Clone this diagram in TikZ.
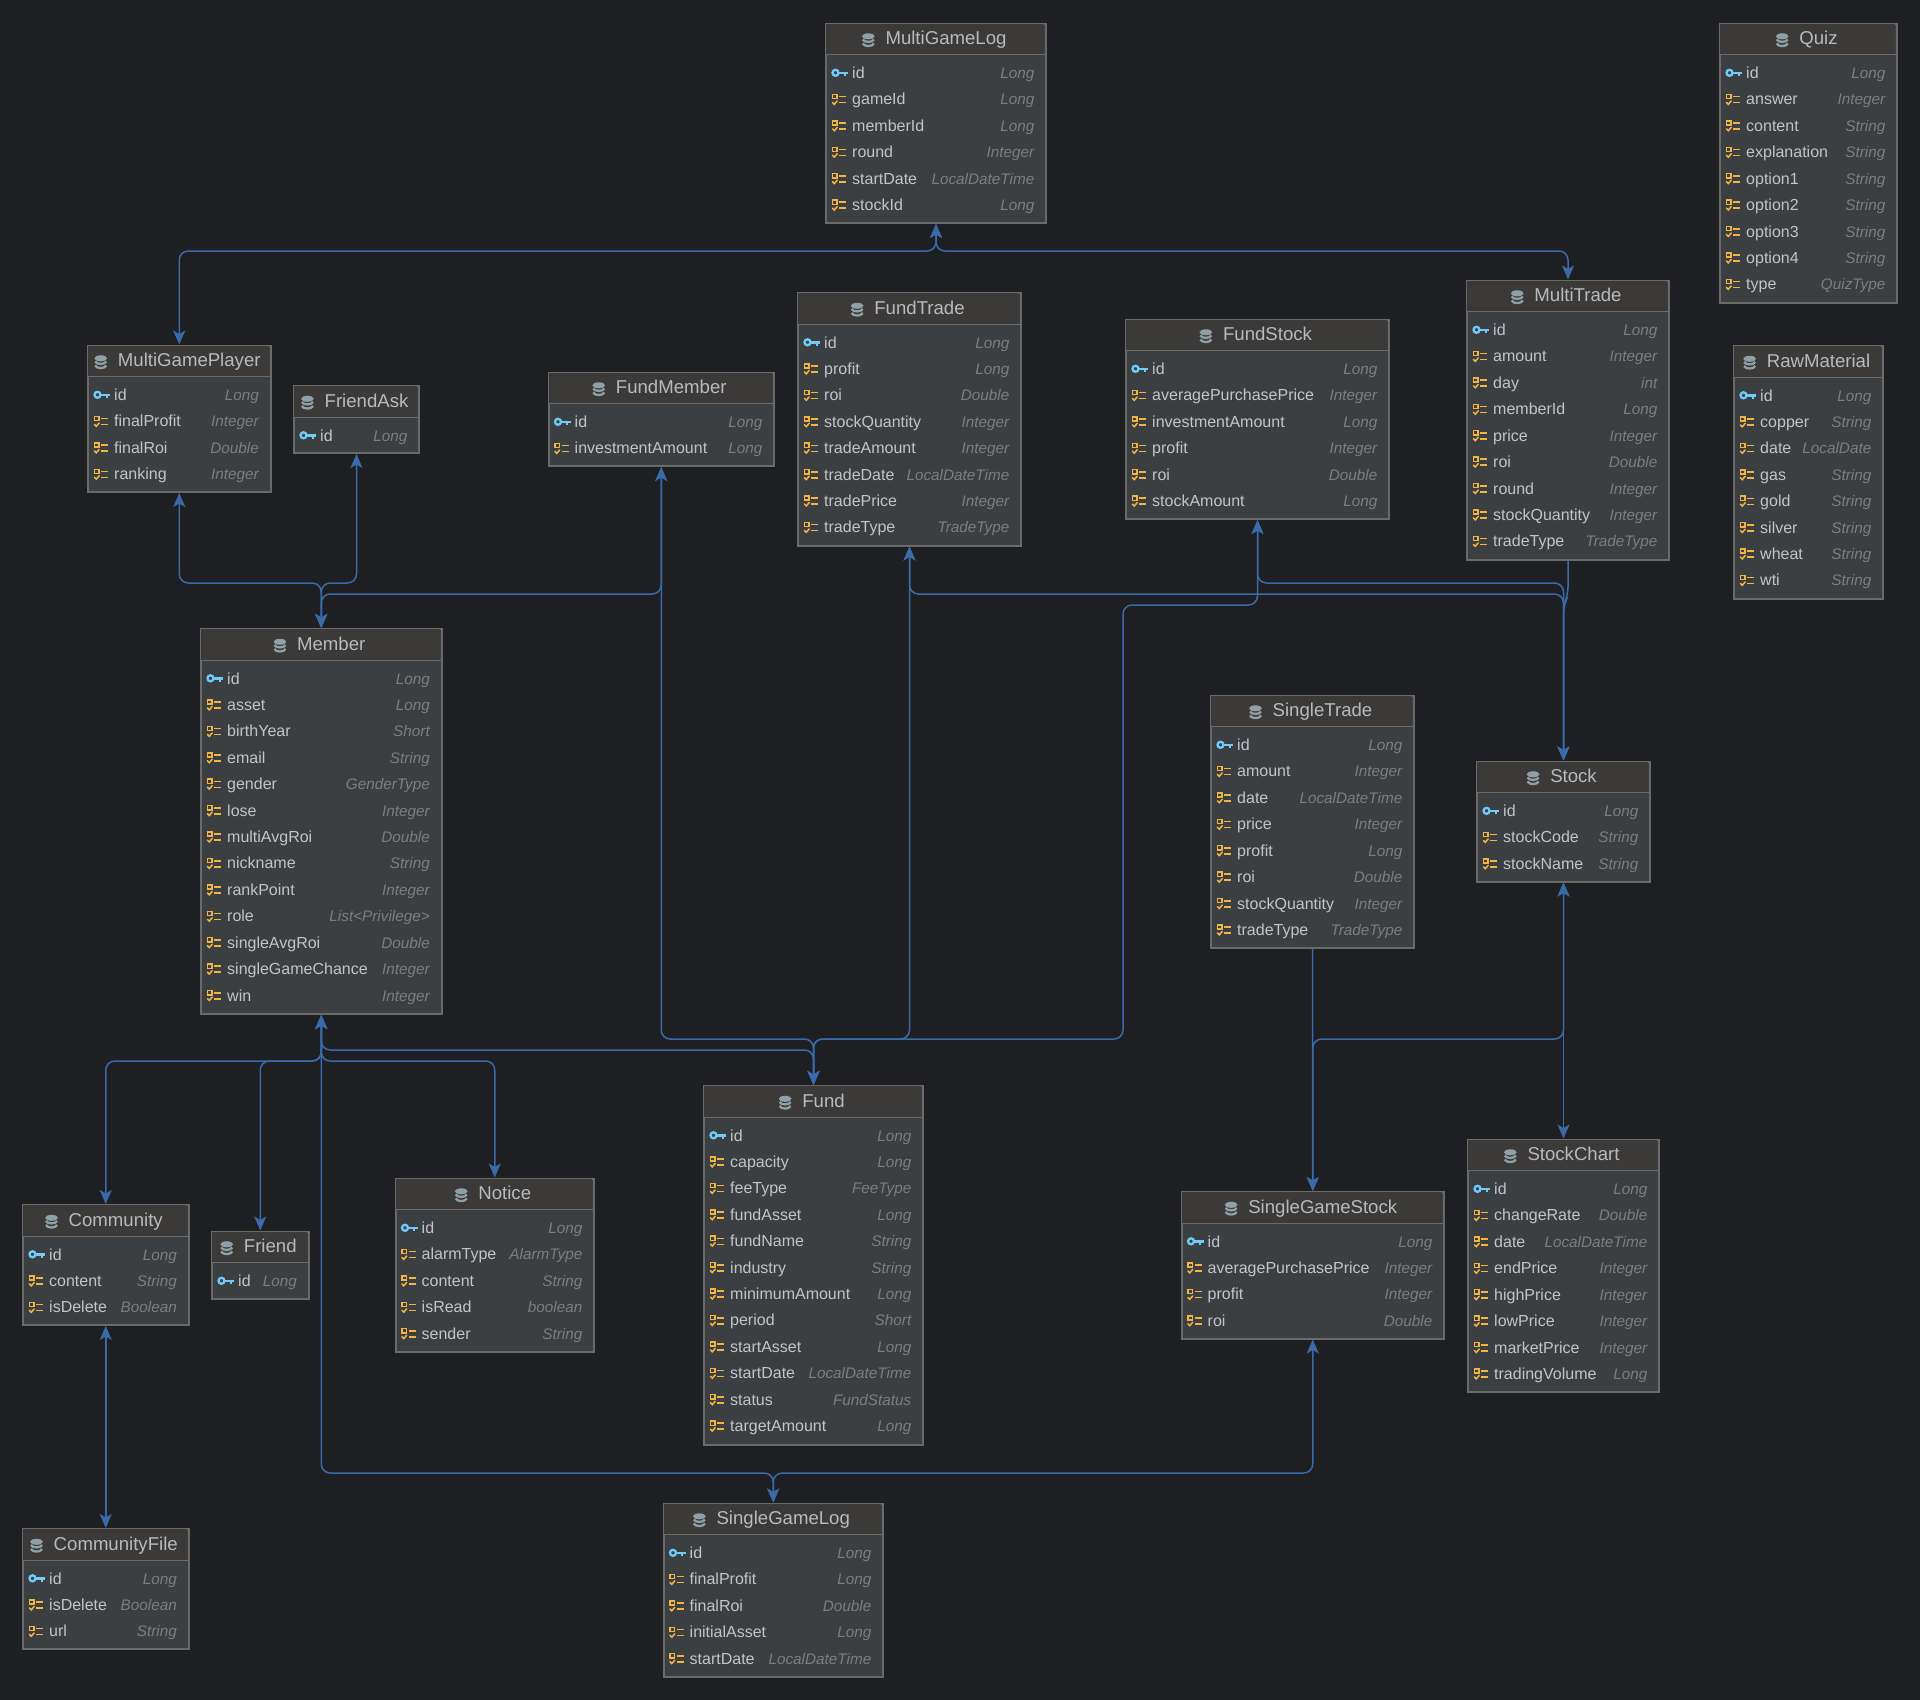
\documentclass[tikz,border=0pt]{standalone}
\usepackage{fontspec}
\setmainfont{Liberation Sans}
\usetikzlibrary{arrows.meta}
\definecolor{bgc}{HTML}{1E1F22}
\definecolor{bodyc}{HTML}{3C3F41}
\definecolor{headc}{HTML}{3B3A38}
\definecolor{edgec}{HTML}{6A6B68}
\definecolor{linec}{HTML}{3A6BA8}
\definecolor{namec}{HTML}{C2C4CA}
\definecolor{typec}{HTML}{7B7D80}
\definecolor{titlec}{HTML}{B8BABE}
\definecolor{keyc}{HTML}{70CBF8}
\definecolor{colc}{HTML}{F2B544}
\definecolor{dbc}{HTML}{8FA0A6}
\tikzset{
  x=1pt,y=-1pt,
  entbox/.style={draw=edgec,line width=2pt,fill=bodyc,inner sep=0pt,anchor=north west},
  enttitle/.style={text=titlec,font=\fontsize{18.6}{20}\selectfont,inner sep=0pt,anchor=center},
  rowname/.style={text=namec,font=\fontsize{16}{18}\selectfont,inner sep=0pt,anchor=base west},
  rowtype/.style={text=typec,font=\fontsize{15.3}{18}\selectfont\itshape,inner sep=0pt,anchor=base east},
  rel/.style={draw=linec,line width=1.5pt,rounded corners=9pt},
  both/.style={rel,{Stealth[length=14pt,width=12pt,inset=3.5pt]}-{Stealth[length=14pt,width=12pt,inset=3.5pt]}},
  toend/.style={rel,-{Stealth[length=14pt,width=12pt,inset=3.5pt]}},
  keyicon/.pic={
    \draw[keyc,line width=2.3pt] (3.5,-0.2) circle (3);
    \draw[keyc,line width=2.4pt] (6.5,-0.2) -- (16,-0.2);
    \draw[keyc,line width=2.3pt] (12.8,-0.2) -- (12.8,3.4);
  },
  colicon/.pic={
    \draw[colc,line width=1.5pt] (0.7,-5) rectangle (5,-0.8);
    \draw[colc,line width=1.7pt] (7.2,-2.8) -- (14,-2.8);
    \draw[colc,line width=1.5pt,line cap=round] (0.4,3) -- (2.3,4.9) -- (5.2,1.5);
    \draw[colc,line width=1.7pt] (7.2,3.2) -- (14,3.2);
  },
  dbicon/.pic={
    \fill[dbc] (0,-4.2) ellipse (6.4 and 3);
    \draw[dbc,line width=2.3pt] (-5.6,-1) .. controls (-4,2.2) and (4,2.2) .. (5.6,-1);
    \draw[dbc,line width=2.3pt] (-5.6,3) .. controls (-4,6.4) and (4,6.4) .. (5.6,3);
  }
}
% id, left, right, top, row count, title, rows
\newcommand{\entity}[7]{%
  \pgfmathsetmacro{\entw}{#3-#2}%
  \pgfmathsetmacro{\enth}{40.5+26.5*#5}%
  \pgfmathsetmacro{\entc}{(#2+#3)/2-1}%
  \node[entbox,minimum width=\entw pt,minimum height=\enth pt] (#1) at (#2-1,#4-0.5) {};
  \fill[headc] (#2,#4+0.5) rectangle (#3-2,#4+31);
  \draw[edgec,line width=1pt] (#2-1,#4+31.5) -- (#3-1,#4+31.5);
  \node[enttitle] (#1-title) at (\entc+11,#4+17.5) {\strut #6};
  \pic at ([xshift=-17pt]#1-title.west) {dbicon};
  \foreach \fn/\ft [count=\ri] in {#7}{%
    \pgfmathsetmacro{\rowy}{#4+50+26.42*(\ri-1)}%
    \pgfmathsetmacro{\rowb}{\rowy+5.5}%
    \node[rowname] (#1-n\ri) at (#2+26,\rowb) {\fn};
    \node[rowtype] (#1-t\ri) at (#3-11.5,\rowb) {\ft};
    \ifnum\ri=1
      \pic at (#2+6,\rowy) {keyicon};
    \else
      \pic at (#2+6,\rowy) {colicon};
    \fi
  }%
}
\begin{document}
\begin{tikzpicture}
\fill[bgc] (0,0) rectangle (1920,1700);
\useasboundingbox (0,0) rectangle (1920,1700);
\entity{MultiGameLog}{826}{1046}{23}{6}{MultiGameLog}{id/Long,gameId/Long,memberId/Long,round/Integer,startDate/LocalDateTime,stockId/Long}
\entity{Quiz}{1720}{1897}{23}{9}{Quiz}{id/Long,answer/Integer,content/String,explanation/String,option1/String,option2/String,option3/String,option4/String,type/QuizType}
\entity{MultiTrade}{1467}{1669}{280}{9}{MultiTrade}{id/Long,amount/Integer,day/int,memberId/Long,price/Integer,roi/Double,round/Integer,stockQuantity/Integer,tradeType/TradeType}
\entity{RawMaterial}{1734}{1883}{345.5}{8}{RawMaterial}{id/Long,copper/String,date/LocalDate,gas/String,gold/String,silver/String,wheat/String,wti/String}
\entity{FundTrade}{798}{1021}{292.5}{8}{FundTrade}{id/Long,profit/Long,roi/Double,stockQuantity/Integer,tradeAmount/Integer,tradeDate/LocalDateTime,tradePrice/Integer,tradeType/TradeType}
\entity{FundStock}{1126}{1389}{319}{6}{FundStock}{id/Long,averagePurchasePrice/Integer,investmentAmount/Long,profit/Integer,roi/Double,stockAmount/Long}
\entity{MultiGamePlayer}{88}{270.5}{345}{4}{MultiGamePlayer}{id/Long,finalProfit/Integer,finalRoi/Double,ranking/Integer}
\entity{FriendAsk}{294}{419}{385.5}{1}{FriendAsk}{id/Long}
\entity{FundMember}{548.5}{774}{372}{2}{FundMember}{id/Long,investmentAmount/Long}
\entity{Member}{201}{441.5}{628.5}{13}{Member}{id/Long,asset/Long,birthYear/Short,email/String,gender/GenderType,lose/Integer,multiAvgRoi/Double,nickname/String,rankPoint/Integer,role/List<Privilege>,singleAvgRoi/Double,singleGameChance/Integer,win/Integer}
\entity{SingleTrade}{1211}{1414}{695}{8}{SingleTrade}{id/Long,amount/Integer,date/LocalDateTime,price/Integer,profit/Long,roi/Double,stockQuantity/Integer,tradeType/TradeType}
\entity{Stock}{1477}{1650}{761}{3}{Stock}{id/Long,stockCode/String,stockName/String}
\entity{Fund}{704}{923}{1085.5}{12}{Fund}{id/Long,capacity/Long,feeType/FeeType,fundAsset/Long,fundName/String,industry/String,minimumAmount/Long,period/Short,startAsset/Long,startDate/LocalDateTime,status/FundStatus,targetAmount/Long}
\entity{Community}{23}{188.5}{1204.5}{3}{Community}{id/Long,content/String,isDelete/Boolean}
\entity{Friend}{212}{308.5}{1231}{1}{Friend}{id/Long}
\entity{Notice}{395.5}{594}{1178}{5}{Notice}{id/Long,alarmType/AlarmType,content/String,isRead/boolean,sender/String}
\entity{SingleGameStock}{1181.5}{1444}{1191.5}{4}{SingleGameStock}{id/Long,averagePurchasePrice/Integer,profit/Integer,roi/Double}
\entity{StockChart}{1468}{1659}{1139}{8}{StockChart}{id/Long,changeRate/Double,date/LocalDateTime,endPrice/Integer,highPrice/Integer,lowPrice/Integer,marketPrice/Integer,tradingVolume/Long}
\entity{CommunityFile}{23}{188.5}{1528.5}{3}{CommunityFile}{id/Long,isDelete/Boolean,url/String}
\entity{SingleGameLog}{663.5}{883}{1503}{5}{SingleGameLog}{id/Long,finalProfit/Long,finalRoi/Double,initialAsset/Long,startDate/LocalDateTime}
% horizontal runs
\coordinate (busA) at (0,251);
\coordinate (busB) at (0,583);
\coordinate (busC) at (0,594);
\coordinate (busD) at (0,1039);
\coordinate (busE) at (0,1050);
\coordinate (busF) at (0,1061);
\coordinate (busG) at (0,1473);
\coordinate (busH) at (0,605);
\coordinate (busI) at (0,596);
\coordinate (colX) at (1123,0);
% connectors
\draw[both] (MultiGameLog.south) -- (MultiGameLog.south |- busA) -- (MultiGamePlayer.north |- busA) -- (MultiGamePlayer.north);
\draw[both] (MultiGameLog.south) -- (MultiGameLog.south |- busA) -- (MultiTrade.north |- busA) -- (MultiTrade.north);
\draw[both] (Member.north) -- (Member.north |- busB) -- (MultiGamePlayer.south |- busB) -- (MultiGamePlayer.south);
\draw[both] (Member.north) -- (Member.north |- busB) -- (FriendAsk.south |- busB) -- (FriendAsk.south);
\draw[both] (Member.north) -- (Member.north |- busC) -- (FundMember.south |- busC) -- (FundMember.south);
\draw[both] (Member.south) -- (Member.south |- busF) -- (Community.north |- busF) -- (Community.north);
\draw[both] (Member.south) -- (Member.south |- busF) -- (Friend.north |- busF) -- (Friend.north);
\draw[both] (Member.south) -- (Member.south |- busF) -- (Notice.north |- busF) -- (Notice.north);
\draw[both] (Member.south) -- (Member.south |- busE) -- (Fund.north |- busE) -- (Fund.north);
\draw[both] (Fund.north) -- (Fund.north |- busD) -- (FundMember.south |- busD) -- (FundMember.south);
\draw[both] (Fund.north) -- (Fund.north |- busD) -- (FundTrade.south |- busD) -- (FundTrade.south);
\draw[both] (Fund.north) -- (Fund.north |- busD) -- (colX |- busD) -- (colX |- busH) -- (FundStock.south |- busH) -- (FundStock.south);
\draw[both] (FundTrade.south) -- (FundTrade.south |- busC) -- (Stock.north |- busC) -- (Stock.north);
\draw[both] (FundStock.south) -- (FundStock.south |- busB) -- (Stock.north |- busB) -- (Stock.north);
\draw[toend] (MultiTrade.south) -- (MultiTrade.south |- busI) -- (Stock.north |- busH) -- (Stock.north);
\draw[toend] (SingleTrade.south) -- (SingleGameStock.north);
\draw[both] (Stock.south) -- (Stock.south |- busD) -- (SingleGameStock.north |- busD) -- (SingleGameStock.north);
\draw[both] (Stock.south) -- (StockChart.north);
\draw[both] (Community.south) -- (CommunityFile.north);
\draw[both] (SingleGameLog.north) -- (SingleGameLog.north |- busG) -- (SingleGameStock.south |- busG) -- (SingleGameStock.south);
\draw[both] (SingleGameLog.north) -- (SingleGameLog.north |- busG) -- (Member.south |- busG) -- (Member.south);
\end{tikzpicture}
\end{document}
